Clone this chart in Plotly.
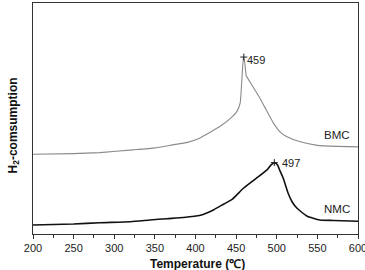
import plotly.graph_objects as go

# BMC curve (temperature in °C, H2 consumption in arbitrary units)
bmc_t = [200, 250, 282, 323, 350, 372, 390, 405, 430, 445, 451, 455, 457.5, 459,
         460.5, 462.5, 467, 479, 487, 496, 504, 512, 528, 550, 575, 600]
bmc_v = [79.7, 80.3, 81.3, 84, 86, 89, 91.5, 95.7, 107.3, 117, 122.5, 131, 160, 176.7,
         172, 158, 152, 136, 124, 110.7, 102, 97.3, 92.3, 88.5, 87.5, 87]

# NMC curve
nmc_t = [200, 250, 282, 320, 344, 365, 385, 405, 422, 435, 445, 459, 475, 488, 493, 497,
         501, 504, 508, 514, 519, 525, 537, 553, 570, 600]
nmc_v = [9, 10, 11.3, 12.3, 14, 15.3, 16.5, 18.5, 24, 30, 34.5, 45.7, 55.7, 64, 69, 71.3,
         69, 63, 55.7, 40.7, 32, 25.7, 18, 14, 13.5, 12.8]

peak_labels = ["459", "497"]
peak_t = [459.5, 497]
peak_v = [176.7, 71.3]
series_names = ["BMC", "NMC"]

x_ticks = [200, 250, 300, 350, 400, 450, 500, 550, 600]

fig = go.Figure()
fig.add_trace(go.Scatter(x=bmc_t, y=bmc_v, mode="lines", line=dict(color="#8a8a8a", width=1.1, shape="spline", smoothing=0.4),
                         showlegend=False, hoverinfo="skip"))
fig.add_trace(go.Scatter(x=nmc_t, y=nmc_v, mode="lines", line=dict(color="#111111", width=1.6, shape="spline", smoothing=0.5),
                         showlegend=False, hoverinfo="skip"))
fig.add_trace(go.Scatter(x=peak_t, y=peak_v, mode="markers",
                         marker=dict(symbol="cross-thin", size=5, line=dict(color="#222", width=1)),
                         showlegend=False, hoverinfo="skip"))

font = "Liberation Sans, Arial, sans-serif"
annotations = []
annotations.append(dict(x=peak_t[0] + 1.5, y=peak_v[0] - 3, text=peak_labels[0], showarrow=False,
                        xanchor="left", yanchor="middle", font=dict(size=11, color="#222", family=font)))
annotations.append(dict(x=peak_t[1] + 7, y=peak_v[1] - 0.5, text=peak_labels[1], showarrow=False,
                        xanchor="left", yanchor="middle", font=dict(size=11, color="#222", family=font)))
annotations.append(dict(x=592, y=99, text=series_names[0], showarrow=False,
                        xanchor="right", yanchor="middle", font=dict(size=11.5, color="#222", family=font)))
annotations.append(dict(x=592, y=24.7, text=series_names[1], showarrow=False,
                        xanchor="right", yanchor="middle", font=dict(size=11.5, color="#222", family=font)))
annotations.append(dict(xref="paper", yref="paper", x=0, y=0.47, xshift=-19, text="H<sub>2</sub>-comsumption",
                        textangle=-90, showarrow=False, xanchor="center", yanchor="middle",
                        font=dict(size=12, color="#111", family=font, weight="bold")))
annotations.append(dict(xref="paper", yref="paper", x=0.505, y=0, yshift=-30, text="Temperature (℃)",
                        showarrow=False, xanchor="center", yanchor="middle",
                        font=dict(size=12, color="#111", family=font, weight="bold")))

fig.update_layout(
    width=365, height=270,
    margin=dict(l=33, r=7, t=3, b=36, autoexpand=False),
    paper_bgcolor="white", plot_bgcolor="white",
    annotations=annotations,
    font=dict(family=font, size=11, color="#222"),
)
fig.update_xaxes(range=[200, 600], tickvals=x_ticks, ticks="outside", ticklen=4, tickwidth=1,
                 tickcolor="#333", showline=True, linecolor="#333", linewidth=1, mirror=True,
                 showgrid=False, zeroline=False, tickfont=dict(size=11, color="#222"),
                 ticklabeloverflow="allow", automargin=False,
                 minor=dict(dtick=25, tick0=225, ticks="outside", ticklen=2.5, tickcolor="#333"))
fig.update_yaxes(range=[0, 230.7], showticklabels=False, ticks="", showline=True, linecolor="#333",
                 linewidth=1, mirror=True, showgrid=False, zeroline=False, automargin=False)

fig.write_html("out.html")
